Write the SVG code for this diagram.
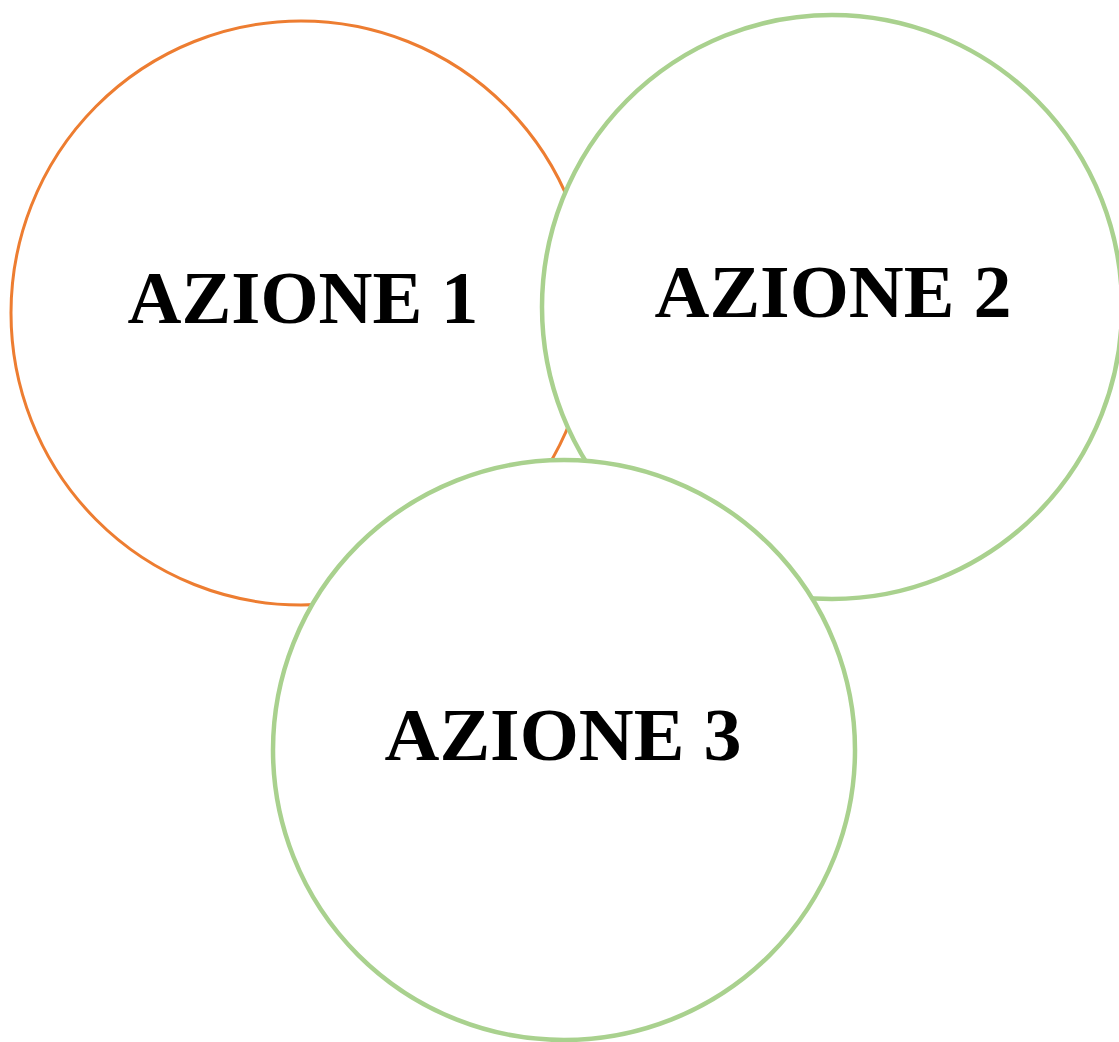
<svg xmlns="http://www.w3.org/2000/svg" width="1119" height="1042" viewBox="0 0 1119 1042">
<style>
.orange{fill:#ffffff;stroke:#ED7D31;stroke-width:3}
.green{fill:#ffffff;stroke:#A9D18E;stroke-width:4.5}
.lbl{font-family:"Liberation Serif","DejaVu Serif",serif;font-weight:bold;font-size:74px;fill:#000;text-anchor:middle}
</style>
<rect width="1119" height="1042" fill="#ffffff"/>
<g id="connectors"></g>
<g id="azione1">
<ellipse class="orange" cx="301" cy="313" rx="290" ry="292"/>
<text class="lbl" x="303" y="323" textLength="351" lengthAdjust="spacingAndGlyphs">AZIONE 1</text>
</g>
<g id="azione2">
<ellipse class="green" cx="832" cy="307" rx="290" ry="292"/>
<text class="lbl" x="833" y="317" textLength="357" lengthAdjust="spacingAndGlyphs">AZIONE 2</text>
</g>
<g id="azione3">
<ellipse class="green" cx="564" cy="750" rx="291" ry="290"/>
<text class="lbl" x="563" y="760" textLength="357" lengthAdjust="spacingAndGlyphs">AZIONE 3</text>
</g>
</svg>
